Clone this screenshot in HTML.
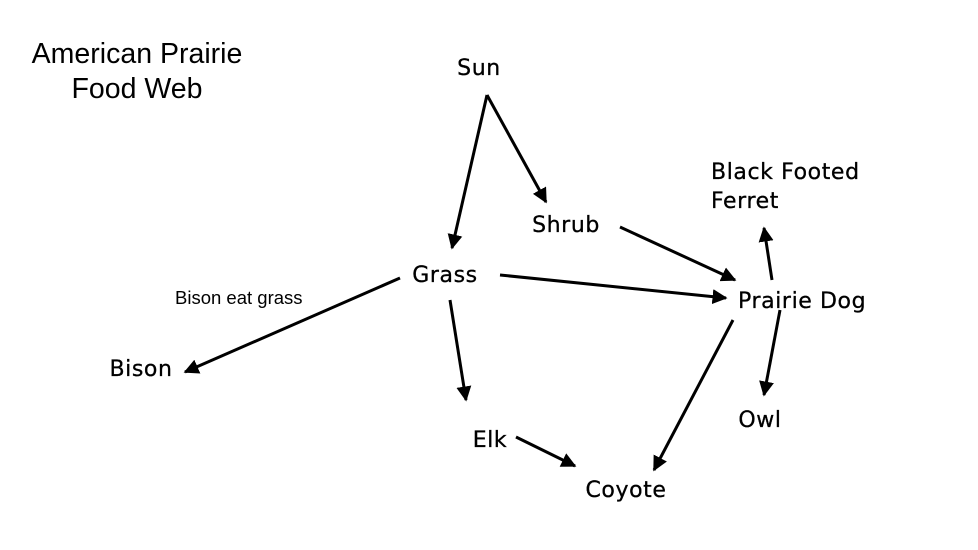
<!DOCTYPE html>
<html><head><meta charset="utf-8"><style>
html,body{margin:0;padding:0;background:#fff;}
svg{display:block;}
.n{font-family:"DejaVu Sans","Liberation Sans",sans-serif;font-size:22px;letter-spacing:0.6px;fill:#000;stroke:#000;stroke-width:0.3px;}
.t{font-family:"Liberation Sans",sans-serif;font-size:28.5px;fill:#000;}
</style></head><body>
<svg width="978" height="550" viewBox="0 0 978 550" xmlns="http://www.w3.org/2000/svg">
<defs><marker id="a" viewBox="0 0 10 10" refX="9" refY="5" markerWidth="5" markerHeight="5" orient="auto" markerUnits="strokeWidth"><path d="M0,0 L10,5 L0,10 z" fill="#000"/></marker></defs>
<text class="t" x="137" y="63" text-anchor="middle">American Prairie</text>
<text class="t" x="137" y="98" text-anchor="middle">Food Web</text>
<g stroke="#000" stroke-width="3" marker-end="url(#a)" fill="none">
<line x1="487" y1="95" x2="452" y2="248"/>
<line x1="487" y1="95" x2="546" y2="202"/>
<line x1="620" y1="227" x2="735" y2="280"/>
<line x1="500" y1="275" x2="726" y2="298"/>
<line x1="772" y1="280" x2="764" y2="228"/>
<line x1="780" y1="310" x2="764" y2="395"/>
<line x1="733" y1="320" x2="654" y2="470"/>
<line x1="400" y1="278" x2="185" y2="372"/>
<line x1="450" y1="300" x2="466" y2="400"/>
<line x1="516" y1="437" x2="575" y2="466"/>
</g>
<text class="n" x="479" y="75" text-anchor="middle">Sun</text>
<text class="n" x="445" y="282" text-anchor="middle">Grass</text>
<text class="n" x="566" y="232" text-anchor="middle">Shrub</text>
<text class="n" x="738" y="308">Prairie Dog</text>
<text class="n" x="711" y="179">Black Footed</text>
<text class="n" x="711" y="208">Ferret</text>
<text class="n" x="760" y="427" text-anchor="middle">Owl</text>
<text class="n" x="141" y="376" text-anchor="middle">Bison</text>
<text class="n" x="490" y="447" text-anchor="middle">Elk</text>
<text class="n" x="626" y="497" text-anchor="middle">Coyote</text>
<text x="175" y="304" font-family="Liberation Sans, sans-serif" font-size="18.5">Bison eat grass</text>
</svg>
</body></html>
